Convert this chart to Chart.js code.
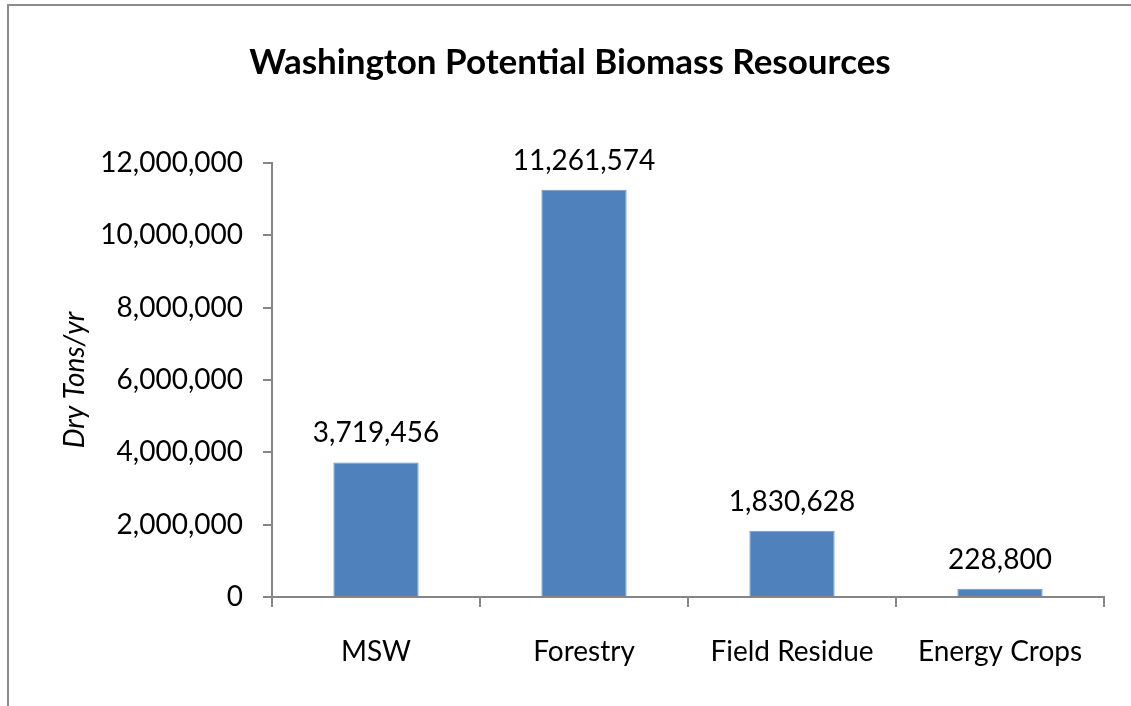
<!DOCTYPE html>
<html>
<head>
<meta charset="utf-8">
<script src="https://cdn.jsdelivr.net/npm/chart.js@4"></script>
<style>
  body { margin: 0; background: #fff; }
  #wrap { position: relative; width: 1131px; height: 706px; }
  #frame { position: absolute; left: 7px; top: 4px; right: 0; bottom: 0;
           border-top: 2px solid #8c8c8c; border-left: 2px solid #8c8c8c; }
  canvas { position: absolute; left: 0; top: 0; }
</style>
</head>
<body>
<div id="wrap">
  <div id="frame"></div>
  <canvas id="barChart" width="1131" height="706"></canvas>
</div>
<script>
// Chart data
const categories = ["MSW", "Forestry", "Field Residue", "Energy Crops"];
const tons = [3719456, 11261574, 1830628, 228800];
const yTicks = [0, 2000000, 4000000, 6000000, 8000000, 10000000, 12000000];

const FONT = "Lato, 'Open Sans', sans-serif";
const axisColor = "#868686";

// Draw value labels above each bar
const valueLabels = {
    id: "valueLabels",
    afterDatasetsDraw(chart) {
        const ctx = chart.ctx;
        const meta = chart.getDatasetMeta(0);
        ctx.save();
        ctx.font = "28px " + FONT;
        ctx.fillStyle = "#000";
        ctx.textAlign = "center";
        ctx.textBaseline = "alphabetic";
        meta.data.forEach((bar, i) => {
            ctx.fillText(tons[i].toLocaleString("en-US"), bar.x, bar.y - 20);
        });
        ctx.restore();
    }
};

const ctx = document.getElementById("barChart").getContext("2d");
const chart = new Chart(ctx, {
    type: "bar",
    data: {
        labels: categories,
        datasets: [{
            data: tons,
            backgroundColor: "#4f81bd",
            borderColor: "#6f99cc",
            borderWidth: 1,
            categoryPercentage: 1,
            barPercentage: 0.41
        }]
    },
    options: {
        responsive: false,
        animation: false,
        layout: { padding: { left: 36, right: 27, top: 0, bottom: 0 } },
        plugins: {
            legend: { display: false },
            tooltip: { enabled: false },
            title: {
                display: true,
                text: "Washington Potential Biomass Resources",
                color: "#000",
                font: { family: FONT, size: 35, weight: "bold" },
                padding: { top: 42, bottom: 79 }
            }
        },
        scales: {
            x: {
                grid: { display: true, drawOnChartArea: false, offset: true,
                        color: axisColor, lineWidth: 2, tickLength: 10 },
                border: { color: axisColor, width: 2 },
                ticks: { color: "#000", padding: 28, font: { family: FONT, size: 28 } },
                afterFit: (scale) => { scale.height = 109; }
            },
            y: {
                min: 0,
                max: 12000000,
                afterBuildTicks: (scale) => { scale.ticks = yTicks.map(v => ({ value: v })); },
                grid: { display: true, drawOnChartArea: false,
                        color: axisColor, lineWidth: 2, tickLength: 9 },
                border: { color: axisColor, width: 2 },
                ticks: {
                    color: "#000",
                    padding: 20,
                    font: { family: FONT, size: 28 },
                    callback: (v) => v.toLocaleString("en-US")
                },
                title: {
                    display: true,
                    text: "Dry Tons/yr",
                    color: "#000",
                    font: { family: FONT, size: 28, style: "italic" },
                    padding: { top: 22, bottom: 0 }
                },
                afterFit: (scale) => { scale.width = 236; }
            }
        }
    },
    plugins: [valueLabels]
});
</script>
</body>
</html>
